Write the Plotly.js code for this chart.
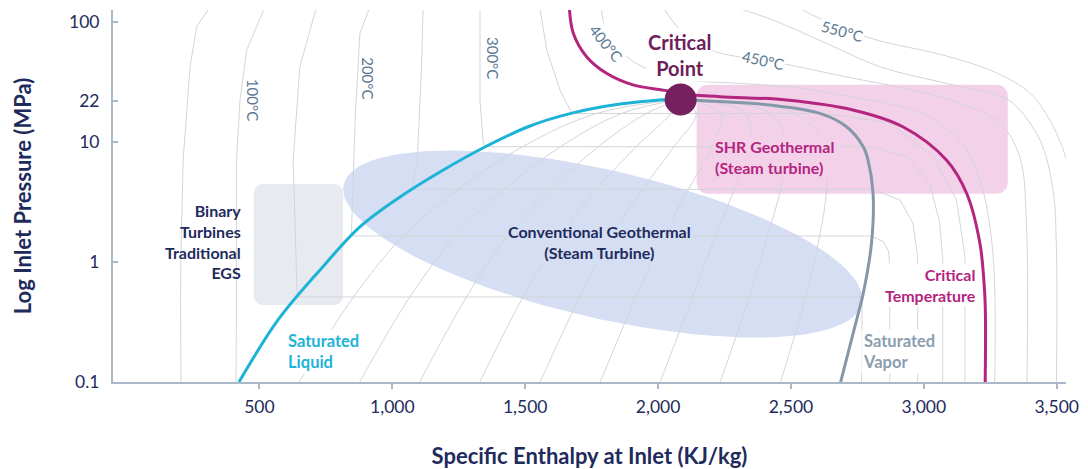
<!DOCTYPE html>
<html><head><meta charset="utf-8">
<script src="https://cdn.plot.ly/plotly-3.0.1.min.js"></script>
<style>html,body{margin:0;padding:0;background:#fff}#chart{width:1088px;height:469px}</style>
</head><body><div id="chart"></div>
<script>
// ---------- data (enthalpy kJ/kg, pressure MPa) ----------
const xTicks = [500, 1000, 1500, 2000, 2500, 3000, 3500];
const yTicks = [0.1, 1, 10, 22, 100];
const yTickText = ['0.1', '1', '10', '22', '100'];

const satLiquidH = [423, 570, 728, 878, 1029, 1179, 1348, 1518, 1676, 1857, 2007, 2085];
const satLiquidP = [0.1, 0.329, 0.858, 1.96, 3.48, 5.62, 9.08, 13.6, 17.4, 20.7, 22.4, 22.6];
const satVaporH = [2085, 2233, 2421, 2609, 2709, 2772, 2790, 2809, 2803, 2772, 2747, 2687];
const satVaporP = [22.6, 21.7, 20.3, 17.3, 13.4, 9.14, 7.08, 3.74, 1.43, 0.548, 0.329, 0.1];
const critTempH = [1666, 1681, 1731, 1806, 1906, 2032, 2090, 2233, 2483, 2733, 2921, 3085, 3161, 3211, 3229, 3232, 3231];
const critTempP = [134, 80.5, 51.4, 37.4, 29.9, 26.8, 25.1, 23.85, 22.4, 18.5, 13.4, 7.08, 3.74, 1.43, 0.552, 0.329, 0.1];
const criticalPointH = [2085];
const criticalPointP = [22.6];

// isotherms
const iso50H = [314, 264, 239, 226, 213, 205, 203, 205];
const iso50P = [134, 91.4, 42.4, 18.5, 7.08, 1.26, 0.48, 0.1];
const iso100H = [521, 452, 427, 414, 414, 412];
const iso100P = [134, 58.4, 22.4, 7.08, 1.26, 0.1];
const iso150H = [715, 652, 627, 642, 2768, 2766];
const iso150P = [134, 42.4, 7.08, 0.511, 0.511, 0.1];
const iso200H = [916, 878, 860, 850, 846, 2804, 2849, 2868, 2872, 2872];
const iso200P = [134, 80.5, 15.2, 3.29, 1.647, 1.647, 1.47, 1.21, 0.858, 0.1];
const iso250H = [1116, 1110, 1094, 1075, 2807, 2910, 2959, 2977, 2977];
const iso250P = [134, 42.4, 7.08, 4.03, 4.03, 3.29, 2.11, 1.10, 0.1];
const iso300H = [1330, 1330, 1341, 1348, 2772, 2835, 2935, 3022, 3060, 3071, 3071];
const iso300P = [134, 22.4, 10.4, 9.14, 9.14, 8.74, 7.54, 4.55, 2.11, 1.04, 0.1];
const iso350H = [1555, 1581, 1631, 1676, 2609, 2721, 2872, 3034, 3123, 3155, 3155];
const iso350P = [134, 58.4, 27.1, 17.3, 17.3, 16.2, 14.4, 7.5, 3.29, 1.10, 0.1];
const iso400H = [1787, 1806, 1882, 1969, 2107, 2308, 2533, 2684, 2935, 3060, 3161, 3222, 3255, 3267, 3267];
const iso400P = [134, 80.5, 51.4, 39.8, 32.9, 30.8, 28.2, 24.6, 19.2, 14.4, 8.58, 3.98, 1.52, 0.585, 0.1];
const iso450H = [2018, 2093, 2176, 2233, 2496, 2710, 2959, 3136, 3286, 3361, 3386, 3388];
const iso450P = [134, 80.9, 61.9, 55.2, 43.8, 34.8, 27.1, 21.1, 14.4, 7.5, 2.11, 0.1];
const iso500H = [2281, 2432, 2647, 2835, 3085, 3274, 3335, 3437, 3486, 3499, 3499];
const iso500P = [134, 104, 64.3, 42.4, 30.8, 24.6, 21.1, 10.4, 3.98, 1.26, 0.1];
const iso550H = [2533, 2582, 2797, 3085, 3274, 3399, 3474, 3534, 3568];
const iso550P = [130, 114, 73.6, 52.1, 37.6, 25.6, 15.2, 7.5, 3.29];

// constant-quality lines inside the dome
const qualityP = [0.1, 0.511, 1.647, 4.03, 9.14, 17.3, 22.6];
const q10H = [650, 854, 1041, 1248, 1490, 1769, 2085];
const q20H = [877, 1066, 1237, 1421, 1633, 1863, 2085];
const q30H = [1103, 1279, 1433, 1595, 1775, 1956, 2085];
const q40H = [1329, 1492, 1629, 1768, 1918, 2049, 2085];
const q50H = [1556, 1705, 1825, 1941, 2060, 2143, 2085];
const q60H = [1782, 1917, 2020, 2114, 2202, 2236, 2085];
const q70H = [2008, 2130, 2216, 2287, 2345, 2329, 2085];
const q80H = [2234, 2343, 2412, 2461, 2487, 2422, 2085];
const q90H = [2461, 2555, 2608, 2634, 2630, 2516, 2085];

// regions
const binaryH = [479, 815];
const binaryP = [0.438, 4.47];
const shrH = [2145, 3316];
const shrP = [3.7, 30];
const convCenter = [1792, 1.41];       // h, P
const convMajorEnd = [2767, 0.449];    // end of semi-major axis
const convMinorEnd = [1729.5, 0.354];  // end of semi-minor axis

// ---------- layout constants ----------
const W = 1088, H = 469;
const M = {l: 113, r: 22, t: 10, b: 87, pad: 0};
const xRange = [-51, 3535], yRange = [-1, 2.1];
const pxPerH = (W - M.l - M.r) / (xRange[1] - xRange[0]);
const pxPerDec = (H - M.t - M.b) / (yRange[1] - yRange[0]);

const NAVY = '#1e2b5c', CYAN = '#1db3d7', MAG = '#b3257f', SLATE = '#8598a9';
const ISO = '#d2d5d9';

function roundedRect(h, p, rPx) {
  const x0 = h[0], x1 = h[1], y0 = Math.log10(p[0]), y1 = Math.log10(p[1]);
  const rx = rPx / pxPerH, ry = rPx / pxPerDec;
  const c = [[x1 - rx, y1 - ry, 0], [x0 + rx, y1 - ry, 90], [x0 + rx, y0 + ry, 180], [x1 - rx, y0 + ry, 270]];
  const xs = [], ys = [];
  c.forEach(([cx, cy, a0]) => {
    for (let k = 0; k <= 8; k++) {
      const a = (a0 + k * 90 / 8) * Math.PI / 180;
      xs.push(cx + rx * Math.cos(a));
      ys.push(Math.pow(10, cy + ry * Math.sin(a)));
    }
  });
  xs.push(xs[0]); ys.push(ys[0]);
  return {xs, ys};
}
function ellipse(center, majEnd, minEnd) {
  const ch = center[0], cl = Math.log10(center[1]);
  const Mh = majEnd[0] - ch, Ml = Math.log10(majEnd[1]) - cl;
  const mh = minEnd[0] - ch, ml = Math.log10(minEnd[1]) - cl;
  const xs = [], ys = [];
  for (let k = 0; k <= 120; k++) {
    const t = 2 * Math.PI * k / 120;
    xs.push(ch + Math.cos(t) * Mh + Math.sin(t) * mh);
    ys.push(Math.pow(10, cl + Math.cos(t) * Ml + Math.sin(t) * ml));
  }
  return {xs, ys};
}

const traces = [];
function fillTrace(o, color) {
  traces.push({x: o.xs, y: o.ys, mode: 'lines', fill: 'toself', fillcolor: color,
    line: {width: 0, color: color}, hoverinfo: 'skip', type: 'scatter'});
}
fillTrace(ellipse(convCenter, convMajorEnd, convMinorEnd), '#d5def2');
fillTrace(roundedRect(binaryH, binaryP, 9), '#e7eaef');
fillTrace(roundedRect(shrH, shrP, 11), '#f3d1e9');

function line(h, p, color, width, shape) {
  traces.push({x: h, y: p, mode: 'lines', type: 'scatter', hoverinfo: 'skip',
    line: {color: color, width: width, shape: shape || 'linear', smoothing: 1}});
}
[[iso50H, iso50P], [iso100H, iso100P], [iso150H, iso150P], [iso200H, iso200P],
 [iso250H, iso250P], [iso300H, iso300P], [iso350H, iso350P]].forEach(a => line(a[0], a[1], ISO, 1));
[[iso400H, iso400P], [iso450H, iso450P], [iso500H, iso500P], [iso550H, iso550P]]
  .forEach(a => line(a[0], a[1], ISO, 1, 'spline'));
[q10H, q20H, q30H, q40H, q50H, q60H, q70H, q80H, q90H].forEach(q => line(q, qualityP, ISO, 1, 'spline'));

line(satLiquidH, satLiquidP, CYAN, 3, 'spline');
line(satVaporH, satVaporP, SLATE, 3, 'spline');
line(critTempH, critTempP, MAG, 3, 'spline');
traces.push({x: criticalPointH, y: criticalPointP, mode: 'markers', type: 'scatter', hoverinfo: 'skip',
  marker: {size: 32, color: '#76205f'}});

const L = Math.log10;
function ann(h, p, text, opts) {
  return Object.assign({x: h, y: L(p), xref: 'x', yref: 'y', text: text, showarrow: false,
    font: {family: 'Lato', size: 16, color: NAVY}}, opts || {});
}
const tempFont = {family: 'Lato', size: 15, color: '#5b7892'};
const annotations = [
  ann(2082, 53.1, '<b>Critical</b><br><b>Point</b>', {font: {family: 'Lato', size: 20, color: '#6d1e5b'}, bgcolor: '#ffffff'}),
  ann(438, 1.476, '<b>Binary</b><br><b>Turbines</b><br><b>Traditional</b><br><b>EGS</b>', {xanchor: 'right', align: 'right'}),
  ann(1781, 1.468, '<b>Conventional Geothermal</b><br><b>(Steam Turbine)</b>', {bgcolor: '#d5def2'}),
  ann(2206, 7.5, '<b>SHR Geothermal</b><br><b>(Steam turbine)</b>', {xanchor: 'left', align: 'left', bgcolor: '#f3d1e9', font: {family: 'Lato', size: 16, color: MAG}}),
  ann(600, 0.181, '<b>Saturated</b><br><b>Liquid</b>', {xanchor: 'left', align: 'left', bgcolor: '#ffffff', font: {family: 'Lato', size: 16.5, color: CYAN}}),
  ann(2765, 0.181, '<b>Saturated</b><br><b>Vapor</b>', {xanchor: 'left', align: 'left', bgcolor: '#ffffff', font: {family: 'Lato', size: 16.5, color: '#8b9db0'}}),
  ann(3203, 0.643, '<b>Critical</b><br><b>Temperature</b>', {xanchor: 'right', align: 'right', bgcolor: '#ffffff', font: {family: 'Lato', size: 16, color: MAG}}),
  ann(476, 22.4, '100°C', {textangle: 90, font: tempFont}),
  ann(908, 34.1, '200°C', {textangle: 90, font: tempFont}),
  ann(1379, 50.1, '300°C', {textangle: 90, font: tempFont}),
  ann(1804, 66.8, '400°C', {textangle: 51, font: tempFont, bgcolor: '#ffffff'}),
  ann(2394, 48.2, '450°C', {textangle: 12, font: tempFont, bgcolor: '#ffffff'}),
  ann(2692, 84.1, '550°C', {textangle: 15, font: tempFont, bgcolor: '#ffffff'})
];

const axisCommon = {showgrid: false, zeroline: false, showline: true, linecolor: '#aab8c7', linewidth: 2,
  tickcolor: '#aab8c7', tickwidth: 2, ticklen: 5, tickfont: {family: 'Lato', size: 17.5, color: NAVY}};

const layout = {
  width: W, height: H, margin: M, showlegend: false,
  paper_bgcolor: '#ffffff', plot_bgcolor: '#ffffff',
  font: {family: 'Lato', color: NAVY},
  xaxis: Object.assign({}, axisCommon, {
    range: xRange, tickvals: xTicks, tickformat: ',', ticks: 'outside', ticklabelstandoff: 3,
    title: {text: '<b>Specific Enthalpy at Inlet (KJ/kg)</b>', font: {family: 'Lato', size: 22, color: NAVY}, standoff: 40}
  }),
  yaxis: Object.assign({}, axisCommon, {
    type: 'log', range: yRange, tickvals: yTicks, ticktext: yTickText, ticks: 'inside', ticklabelstandoff: 8,
    title: {text: '<b>Log Inlet Pressure (MPa)</b>', font: {family: 'Lato', size: 22, color: NAVY}, standoff: 31}
  }),
  annotations: annotations
};

Plotly.newPlot('chart', traces, layout, {displayModeBar: false, staticPlot: true});
</script>
</body></html>
